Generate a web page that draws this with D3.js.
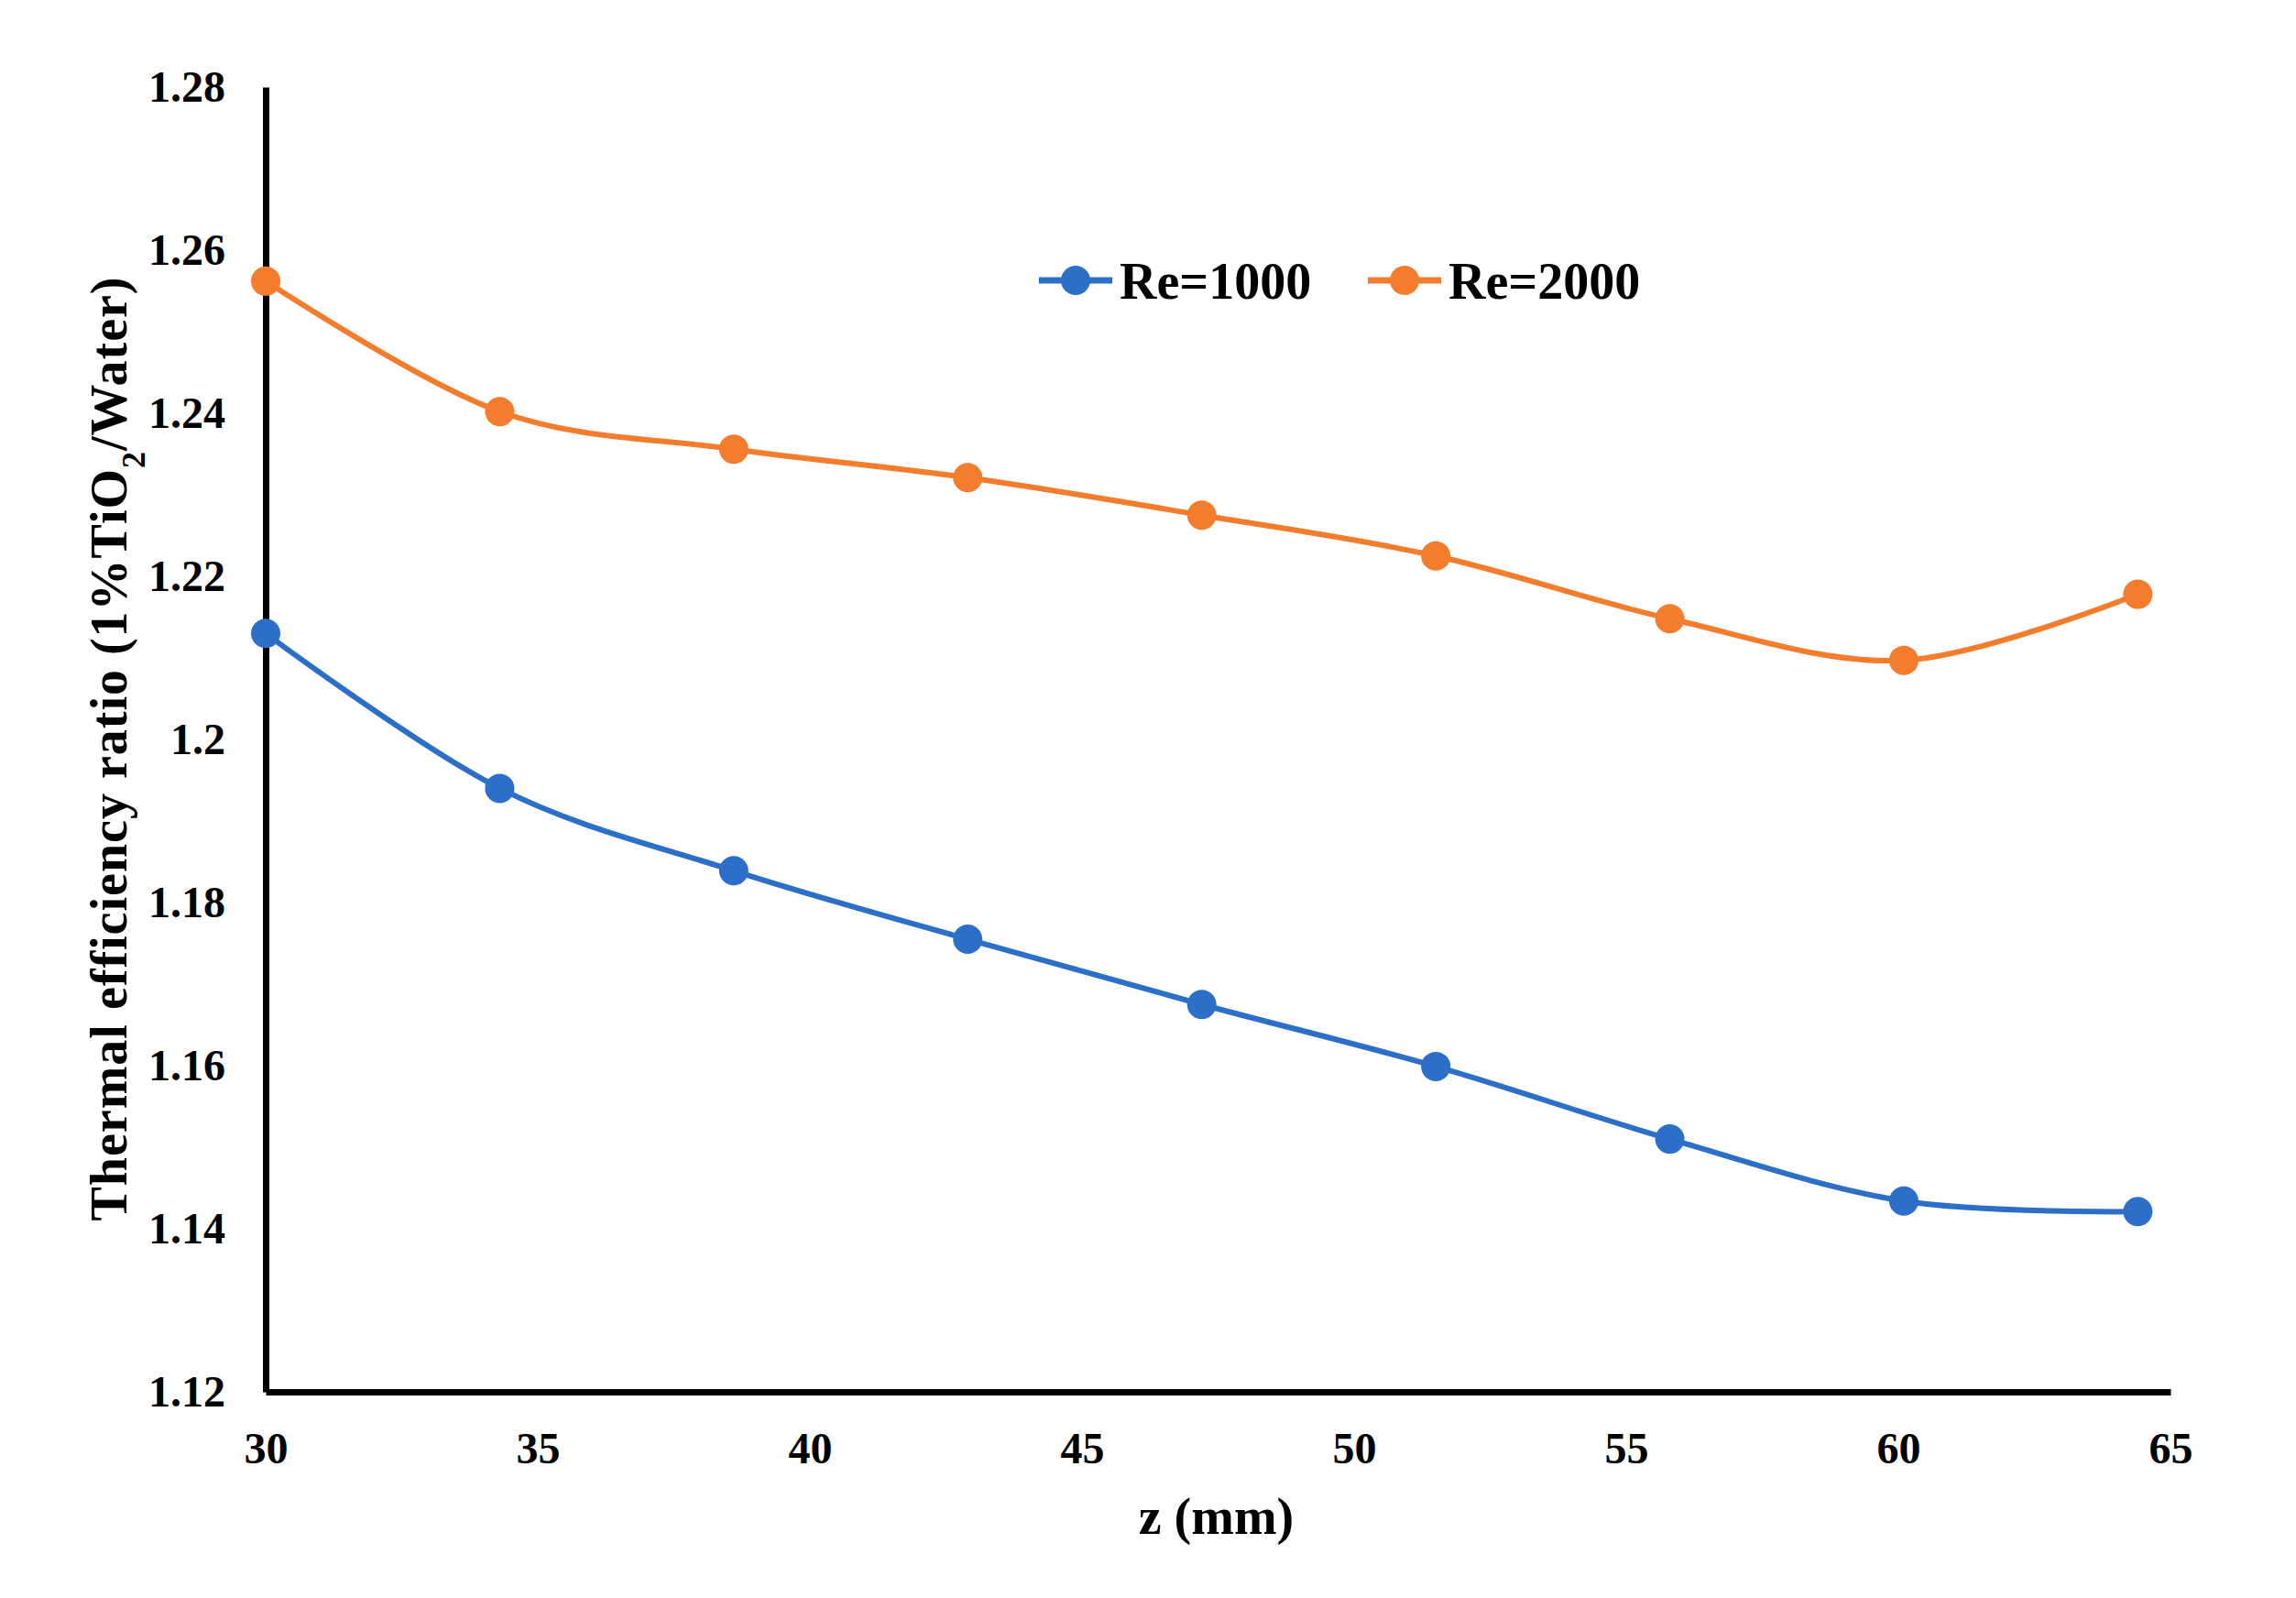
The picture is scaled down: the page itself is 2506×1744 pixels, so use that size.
<!DOCTYPE html>
<html>
<head>
<meta charset="utf-8">
<script src="https://cdn.jsdelivr.net/npm/d3@7"></script>
<style>
  html, body { margin: 0; padding: 0; background: #fff; }
  svg text { font-family: "Liberation Serif", "Times New Roman", serif; font-weight: bold; fill: #000; }
</style>
</head>
<body>
<div id="chart"></div>
<script>
// data
const zValues = [30, 34.3, 38.6, 42.9, 47.2, 51.5, 55.8, 60.1, 64.4];
const re1000 = [1.2130, 1.1940, 1.1839, 1.1755, 1.1675, 1.1599, 1.1510, 1.1434, 1.1421];
const re2000 = [1.2562, 1.2402, 1.2356, 1.2321, 1.2275, 1.2225, 1.2148, 1.2097, 1.2178];
const seriesNames = ['Re=1000', 'Re=2000'];
const seriesColors = ['#2C6FC8', '#F37D2C'];
const xTicks = [30, 35, 40, 45, 50, 55, 60, 65];
const yTicks = [1.12, 1.14, 1.16, 1.18, 1.2, 1.22, 1.24, 1.26, 1.28];

const width = 2506, height = 1744;
const margin = { left: 290, right: 137, top: 95, bottom: 225 };

const svg = d3.select('#chart')
    .append('svg')
    .attr('width', width)
    .attr('height', height);

const x = d3.scaleLinear().domain([30, 65]).range([margin.left, width - margin.right]);
const y = d3.scaleLinear().domain([1.12, 1.28]).range([height - margin.bottom, margin.top]);

// axes
const xAxis = svg.append('g')
    .attr('transform', `translate(0,${y(1.12)})`)
    .call(d3.axisBottom(x).tickValues(xTicks).tickSize(0).tickPadding(44).tickFormat(d3.format('d')));
xAxis.select('.domain').attr('stroke', '#000').attr('stroke-width', 7);
xAxis.selectAll('text').style('font-size', '48px');

const yAxis = svg.append('g')
    .attr('transform', `translate(${x(30)},0)`)
    .call(d3.axisLeft(y).tickValues(yTicks).tickSize(0).tickPadding(44).tickFormat(d => String(+d.toFixed(2))));
yAxis.select('.domain').attr('stroke', '#000').attr('stroke-width', 7);
yAxis.selectAll('text').style('font-size', '48px');

// series
const series = [re1000, re2000].map((vals, i) => ({
    name: seriesNames[i],
    color: seriesColors[i],
    points: zValues.map((z, j) => ({ z: z, v: vals[j] }))
}));

const line = d3.line()
    .x(d => x(d.z))
    .y(d => y(d.v))
    .curve(d3.curveCardinal.tension(0));

series.forEach(s => {
    svg.append('path')
        .datum(s.points)
        .attr('fill', 'none')
        .attr('stroke', s.color)
        .attr('stroke-width', 6)
        .attr('d', line);

    svg.selectAll(null)
        .data(s.points)
        .enter()
        .append('ellipse')
        .attr('cx', d => x(d.z))
        .attr('cy', d => y(d.v))
        .attr('rx', 16)
        .attr('ry', 16)
        .attr('fill', s.color);
});

// legend
const legendY = 306;
const legendX = [1134, 1493];
series.forEach((s, i) => {
    const g = svg.append('g').attr('transform', `translate(${legendX[i]},${legendY})`);
    g.append('line')
        .attr('x1', 0).attr('x2', 80)
        .attr('stroke', s.color).attr('stroke-width', 7);
    g.append('circle').attr('cx', 40).attr('r', 16).attr('fill', s.color);
    g.append('text')
        .attr('x', 88)
        .attr('dy', '0.35em')
        .style('font-size', '56px')
        .text(s.name);
});

// axis titles
svg.append('text')
    .attr('x', x(30) + (x(65) - x(30)) / 2 - 2)
    .attr('y', 1674)
    .attr('text-anchor', 'middle')
    .style('font-size', '56px')
    .text('z (mm)');

const yTitle = svg.append('text')
    .attr('transform', `translate(138,${(y(1.12) + y(1.28)) / 2 + 10}) rotate(-90)`)
    .attr('text-anchor', 'middle')
    .style('font-size', '56px')
    .style('letter-spacing', '1px');
yTitle.append('tspan').text('Thermal efficiency ratio (1%TiO');
yTitle.append('tspan').attr('baseline-shift', 'sub').style('font-size', '36px').text('2');
yTitle.append('tspan').text('/Water)');
</script>
</body>
</html>
